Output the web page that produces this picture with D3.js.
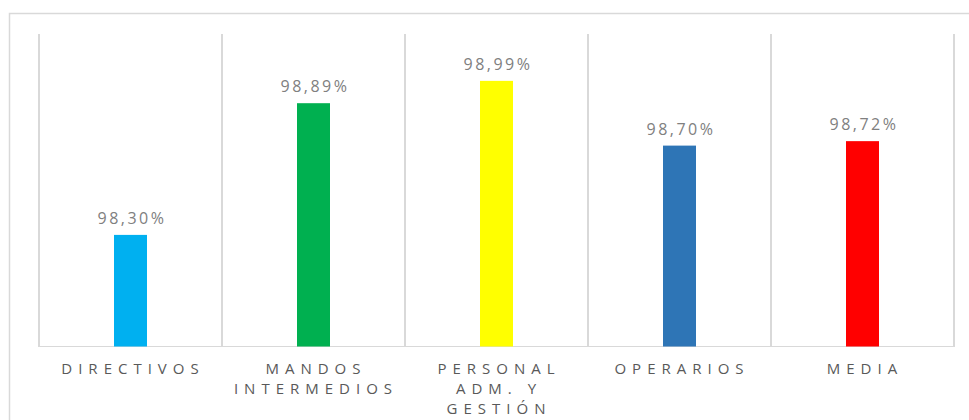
<!DOCTYPE html>
<meta charset="utf-8">
<style>
html,body {
  margin: 0px;
  padding: 0px;
  overflow: hidden;
  background-color: white;
}
.grid line {
  stroke: #d9d9d9;
  stroke-width: 1.5px;
  shape-rendering: crispEdges;
}
.value {
  fill: #808080;
  font-family: "Open Sans", sans-serif;
  font-size: 16px;
  letter-spacing: 2.5px;
}
.cat {
  fill: #595959;
  font-family: "Open Sans", sans-serif;
  font-size: 15px;
  letter-spacing: 6px;
}
</style>
<body>
<svg></svg>
</body>
<script src="https://cdn.jsdelivr.net/npm/d3@7"></script>
<script>

var categories = ["DIRECTIVOS", "MANDOS INTERMEDIOS", "PERSONAL ADM. Y GESTIÓN", "OPERARIOS", "MEDIA"];
var labelLines = [["DIRECTIVOS"], ["MANDOS", "INTERMEDIOS"], ["PERSONAL", "ADM. Y", "GESTIÓN"], ["OPERARIOS"], ["MEDIA"]];
var values = [98.30, 98.89, 98.99, 98.70, 98.72];
var colors = ["#00b0f0", "#00b050", "#ffff00", "#2e75b6", "#ff0000"];

var width = 969, height = 420;
var svg = d3.select("svg").attr("width", width).attr("height", height);

// chart area border (only top and left visible in the picture)
svg.append("rect")
  .attr("x", 9.5).attr("y", 13.5)
  .attr("width", 1000).attr("height", 500)
  .attr("fill", "none")
  .attr("stroke", "#d9d9d9")
  .attr("stroke-width", 1.5);

var x = d3.scaleBand().domain(categories).range([39, 954]).padding(0);
var y = d3.scaleLinear().domain([97.8, 99.2]).range([346.5, 34]);

var es = d3.formatLocale({decimal: ",", thousands: ".", grouping: [3], currency: ["", "€"]});
var fmt = es.format(".2f");

// vertical category separators
var bounds = categories.map(function(c) { return x(c); }).concat([x.range()[1]]);
var grid = svg.append("g").attr("class", "grid");
grid.selectAll("line.v").data(bounds).enter().append("line")
  .attr("class", "v")
  .attr("x1", function(d) { return d; }).attr("x2", function(d) { return d; })
  .attr("y1", y.range()[1]).attr("y2", y.range()[0]);

var barW = 33;
svg.selectAll("rect.bar").data(values).enter().append("rect")
  .attr("class", "bar")
  .attr("x", function(d, i) { return x(categories[i]) + x.bandwidth() / 2 - barW / 2; })
  .attr("y", function(d) { return y(d); })
  .attr("width", barW)
  .attr("height", function(d) { return y.range()[0] - y(d); })
  .attr("fill", function(d, i) { return colors[i]; });

// baseline
grid.append("line")
  .attr("x1", x.range()[0]).attr("x2", x.range()[1])
  .attr("y1", y.range()[0]).attr("y2", y.range()[0]);

svg.selectAll("text.value").data(values).enter().append("text")
  .attr("class", "value")
  .attr("x", function(d, i) { return x(categories[i]) + x.bandwidth() / 2 + 1.5; })
  .attr("y", function(d) { return y(d) - 11; })
  .attr("text-anchor", "middle")
  .text(function(d) { return fmt(d) + "%"; });

var cats = svg.selectAll("text.cat").data(labelLines).enter().append("text")
  .attr("class", "cat")
  .attr("text-anchor", "middle")
  .attr("x", function(d, i) { return x(categories[i]) + x.bandwidth() / 2 + 2.5; })
  .attr("y", 374);

cats.selectAll("tspan").data(function(d, i) {
    return d.map(function(t) { return {t: t, cx: x(categories[i]) + x.bandwidth() / 2 + 2.5}; });
  }).enter().append("tspan")
  .attr("x", function(d) { return d.cx; })
  .attr("dy", function(d, j) { return j === 0 ? 0 : 20; })
  .text(function(d) { return d.t; });

</script>
